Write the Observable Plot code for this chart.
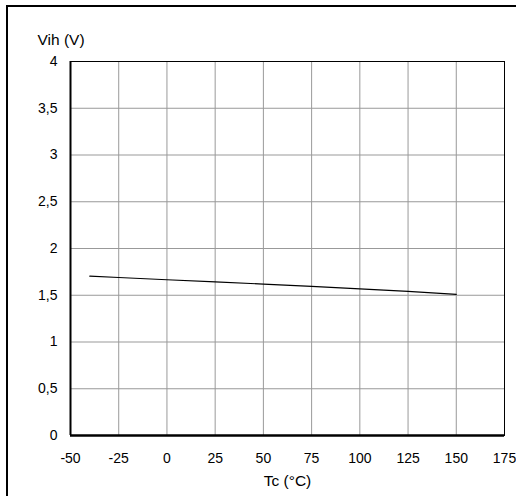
<!DOCTYPE html>
<html><head><meta charset="utf-8">
<script src="https://cdn.jsdelivr.net/npm/d3@7"></script>
<script src="https://cdn.jsdelivr.net/npm/@observablehq/plot@0.6"></script>
<style>
html,body{margin:0;padding:0;background:#fff;}
#wrap{position:relative;width:516px;height:496px;overflow:hidden;font-family:"Liberation Sans",Arial,Helvetica,sans-serif;}
#outer{position:absolute;left:6px;top:5px;width:600px;height:600px;border-left:2px solid #000;border-top:2px solid #000;}
#chart{position:absolute;left:0;top:0;}
</style></head>
<body><div id="wrap"><div id="outer"></div><div id="chart"></div></div>
<script>
const temps = [-40, -25, 0, 25, 50, 75, 100, 125, 150];
const vih = [1.704, 1.69, 1.666, 1.644, 1.619, 1.594, 1.569, 1.541, 1.51];
const xTicks = [-50, -25, 0, 25, 50, 75, 100, 125, 150, 175];
const yTicks = [0, 0.5, 1, 1.5, 2, 2.5, 3, 3.5, 4];
const xTitle = "Tc (°C)";
const yTitle = "Vih (V)";

const data = temps.map((t, i) => ({t, v: vih[i]}));
const fmt = d => String(d).replace(".", ",");

const chart = Plot.plot({
  width: 516, height: 496,
  marginLeft: 70, marginRight: 12, marginTop: 61, marginBottom: 61,
  style: {fontFamily: '"Liberation Sans", Arial, Helvetica, sans-serif', fontSize: "14px", background: "transparent", color: "#000"},
  x: {domain: [-50, 175], ticks: xTicks, label: null},
  y: {domain: [0, 4], ticks: yTicks, label: null},
  marks: [
    Plot.gridX(xTicks, {stroke: "#999", strokeOpacity: 1, strokeWidth: 1}),
    Plot.gridY(yTicks, {stroke: "#999", strokeOpacity: 1, strokeWidth: 1}),
    Plot.frame({stroke: "#000", strokeWidth: 1}),
    Plot.ruleX([-50], {stroke: "#000", strokeWidth: 2}),
    Plot.ruleY([0], {stroke: "#000", strokeWidth: 2.5}),
    Plot.axisX(xTicks, {tickSize: 0, tickPadding: 18, tickFormat: fmt, fontSize: 14}),
    Plot.axisY(yTicks, {tickSize: 0, tickPadding: 13, tickFormat: fmt, fontSize: 14}),
    Plot.line(data, {x: "t", y: "v", stroke: "#000", strokeWidth: 1.2}),
    Plot.text([yTitle], {frameAnchor: "top-left", dx: -33, dy: -28, text: d => d, textAnchor: "start", fontSize: 15.5}),
    Plot.text([xTitle], {frameAnchor: "bottom", dx: 0, dy: 50, text: d => d, fontSize: 15.5})
  ]
});
document.getElementById("chart").appendChild(chart);
</script></body></html>
